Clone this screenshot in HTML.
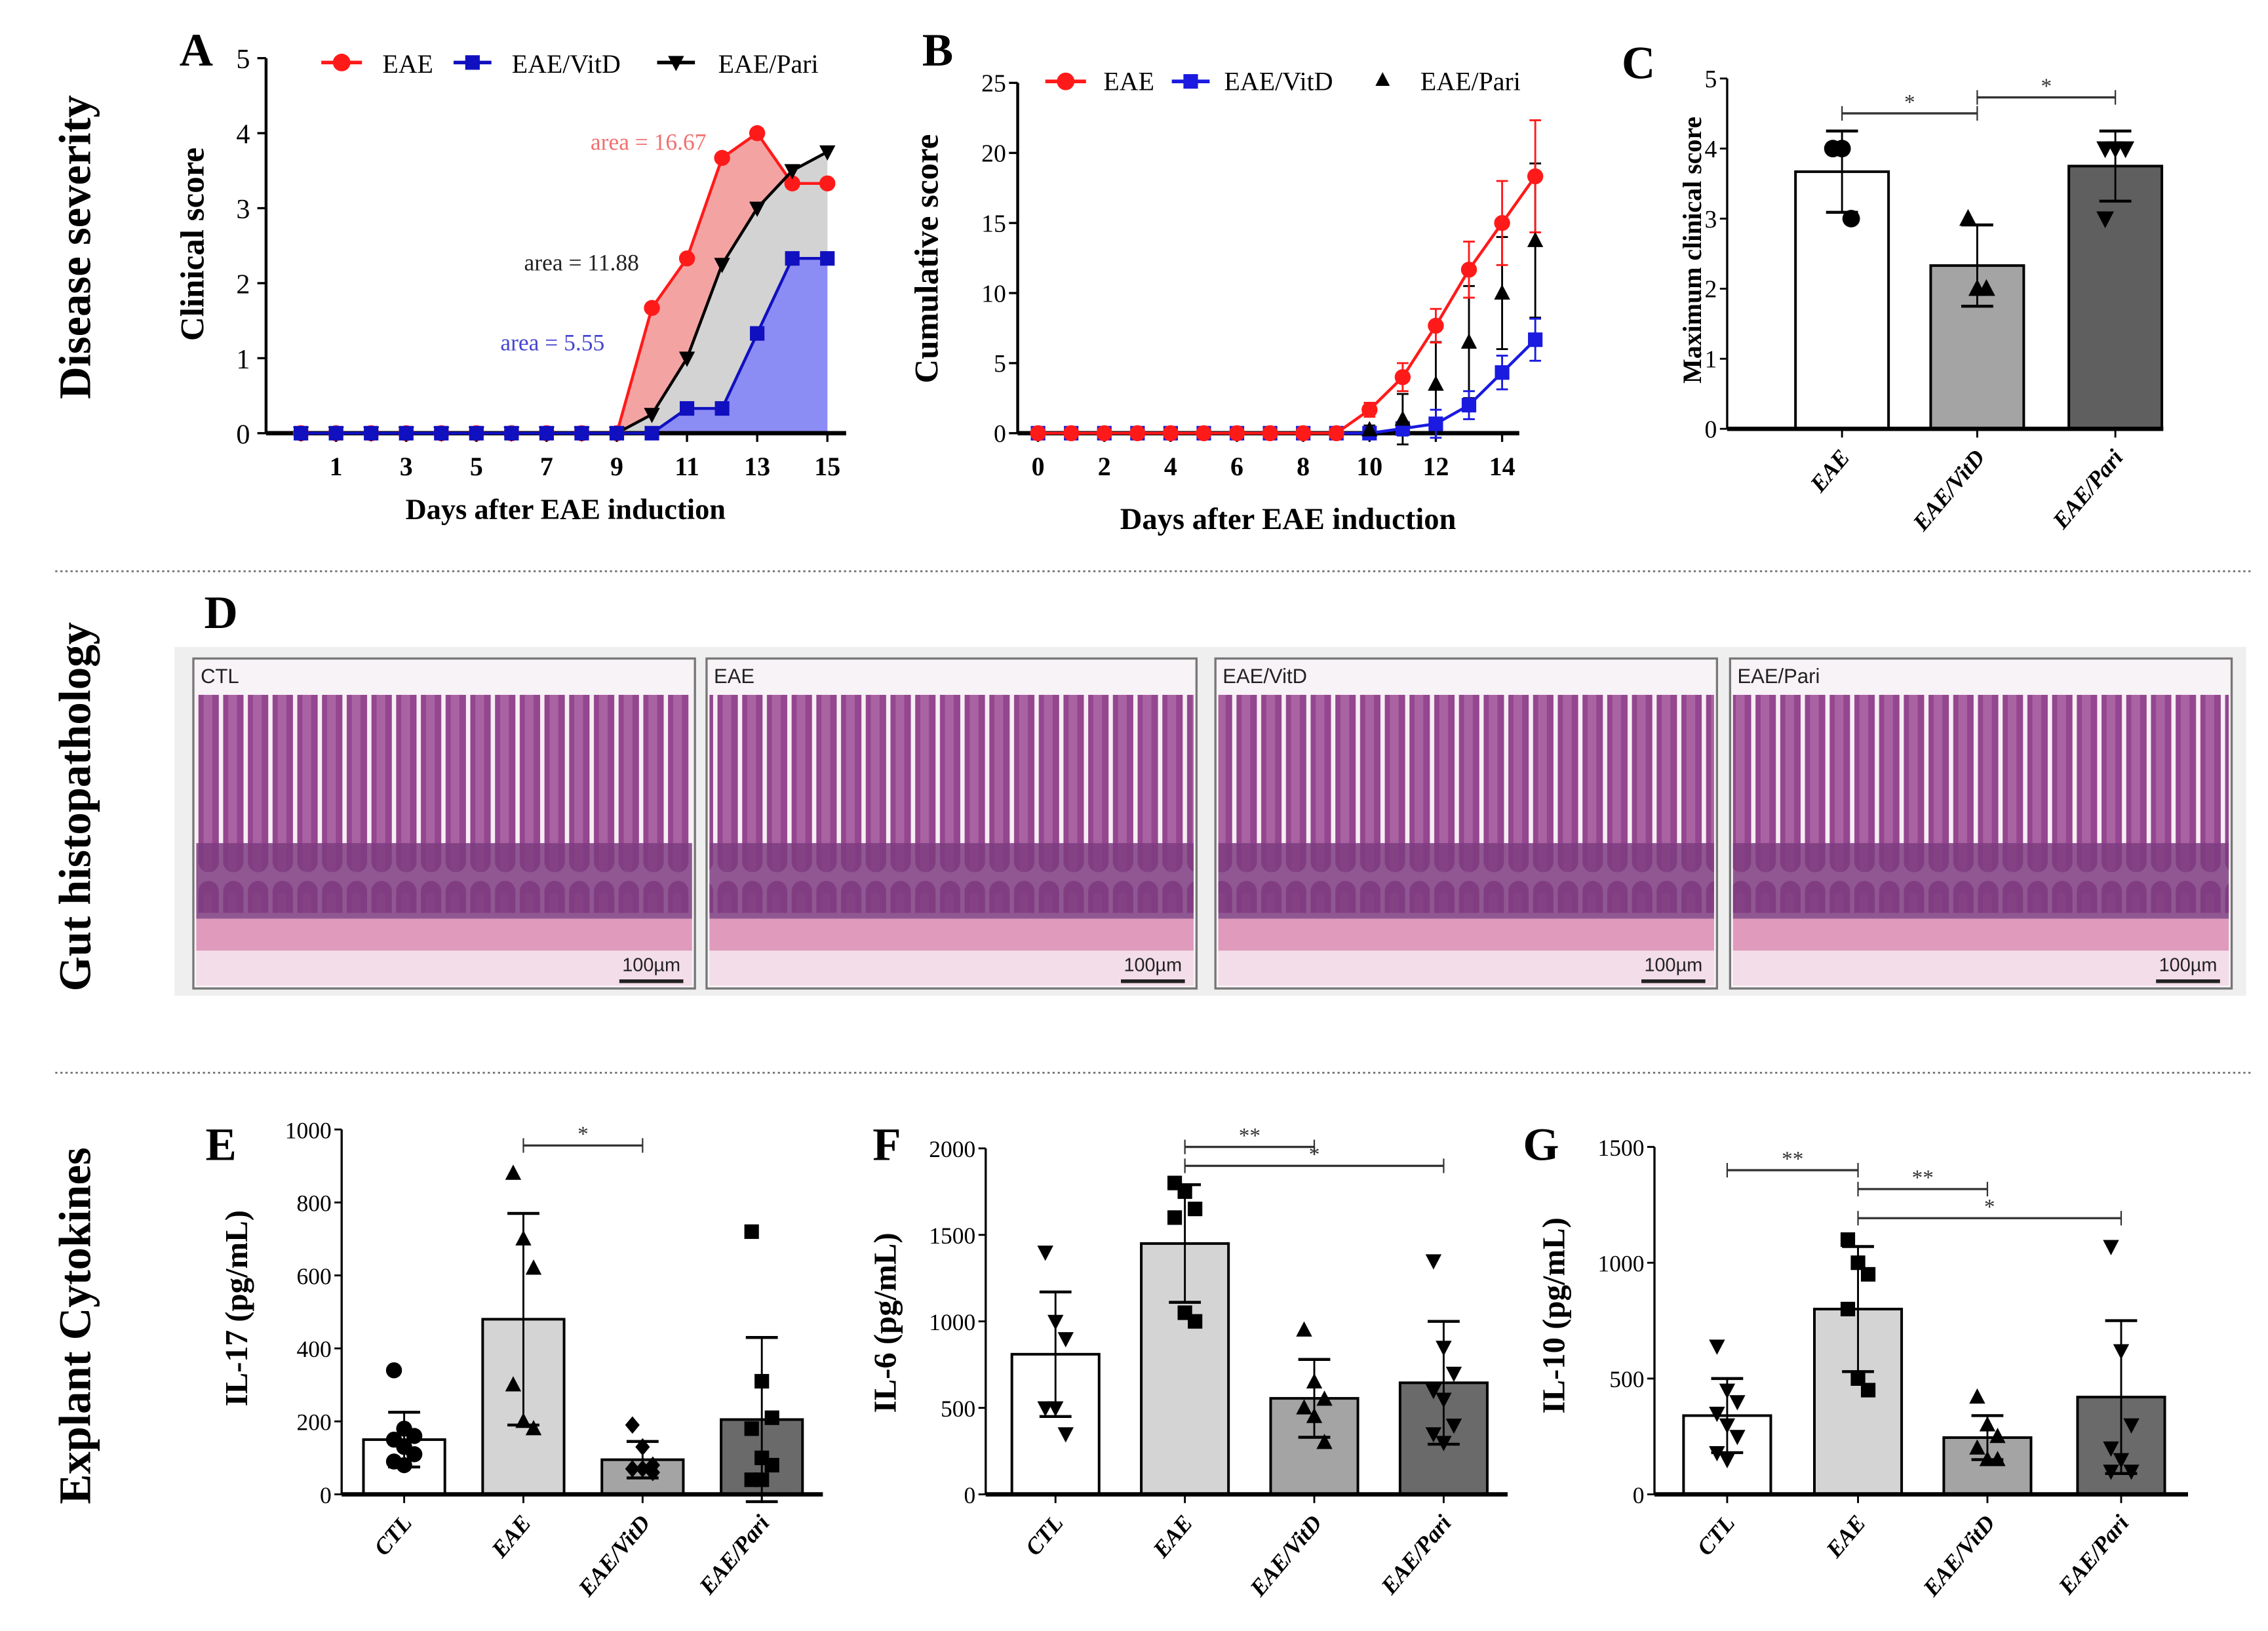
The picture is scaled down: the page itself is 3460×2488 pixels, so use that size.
<!DOCTYPE html>
<html><head><meta charset="utf-8"><style>
html,body{margin:0;padding:0;background:#fff;}
svg{display:block;font-family:"Liberation Serif",serif;}
</style></head><body>
<svg id="fig" xmlns="http://www.w3.org/2000/svg" width="3460" height="2488" viewBox="0 0 1560 1122" preserveAspectRatio="none">
<defs>
<pattern id="villi" x="0" y="0" width="17" height="200" patternUnits="userSpaceOnUse">
<rect x="0" y="0" width="17" height="200" fill="#f7eef4"/>
<rect x="0.5" y="6" width="14" height="194" rx="7" fill="#94468f"/>
<rect x="4" y="14" width="6" height="186" rx="3" fill="#a963a3"/>
</pattern>
</defs>
</svg>
<script>
const NS='http://www.w3.org/2000/svg';
const svg=document.getElementById('fig');

// ---------- DATA ----------
const daysA=[0,1,2,3,4,5,6,7,8,9,10,11,12,13,14,15];
const aEAE=[0,0,0,0,0,0,0,0,0,0,1.67,2.33,3.67,4,3.33,3.33];
const aVitD=[0,0,0,0,0,0,0,0,0,0,0,0.33,0.33,1.33,2.33,2.33];
const aPari=[0,0,0,0,0,0,0,0,0,0,0.25,1,2.25,3,3.5,3.75];
const aTicksX=[1,3,5,7,9,11,13,15];
const aTicksY=[0,1,2,3,4,5];

const daysB=[0,1,2,3,4,5,6,7,8,9,10,11,12,13,14,15];
const bEAE=[0,0,0,0,0,0,0,0,0,0,1.67,4,7.67,11.67,15,18.33];
const bEAEerr=[0,0,0,0,0,0,0,0,0,0,0.5,1,1.2,2,3,4];
const bVitD=[0,0,0,0,0,0,0,0,0,0,0,0.33,0.67,2,4.33,6.67];
const bVitDerr=[0,0,0,0,0,0,0,0,0,0,0.3,0.5,1,1,1.2,1.5];
const bPariDays=[10,11,12,13,14,15];
const bPari=[0.25,1,3.5,6.5,10,13.75];
const bPariErr=[0.3,1.8,3,4,4,5.5];
const bTicksX=[0,2,4,6,8,10,12,14];
const bTicksY=[0,5,10,15,20,25];

const cCats=['EAE','EAE/VitD','EAE/Pari'];
const cMeans=[3.67,2.33,3.75];
const cSD=[0.58,0.58,0.5];
const cPts=[[4,4,3],[3,2,2],[4,4,4,3]];
const cTicks=[0,1,2,3,4,5];

const cytoCats=['CTL','EAE','EAE/VitD','EAE/Pari'];
const eMeans=[150,480,95,205];
const eSD=[75,290,50,225];
const ePts=[[340,180,160,150,130,110,90,80],[880,700,620,300,200,180],[190,130,80,70,70,60],[720,310,210,180,100,80,40,40]];
const eTicks=[0,200,400,600,800,1000];
const fMeans=[810,1450,555,645];
const fSD=[360,340,225,355];
const fPts=[[1400,1000,900,500,500,350],[1800,1750,1650,1600,1050,1000],[950,650,550,500,450,300],[1350,850,700,600,550,400,350,300]];
const fTicks=[0,500,1000,1500,2000];
const gMeans=[340,800,245,420];
const gSD=[160,270,95,330];
const gPts=[[640,450,400,350,300,250,180,150],[1100,1000,950,800,500,450],[420,300,250,200,150,150],[1070,620,300,200,150,100,100]];
const gTicks=[0,500,1000,1500];

// ---------- HELPERS ----------
function el(tag,attrs,name,parent){
  const e=document.createElementNS(NS,tag);
  for(const k in attrs) e.setAttribute(k,attrs[k]);
  
  
  (parent||svg).appendChild(e);
  return e;
}
function txt(x,y,s,o,name,parent){
  o=o||{};
  const a={x:x,y:y,'font-size':o.size||16,'text-anchor':o.anchor||'middle',fill:o.fill||'#000','font-weight':o.weight||'normal'};
  if(o.style) a['font-style']=o.style;
  if(o.family) a['font-family']=o.family;
  if(o.rot!==undefined) a.transform='rotate('+o.rot+' '+x+' '+y+')';
  const t=el('text',a,name,parent);
  t.textContent=s;
  return t;
}
function marker(shape,x,y,s,fill,name,parent){
  if(shape==='circle') return el('circle',{cx:x,cy:y,r:s*0.55,fill:fill},name,parent);
  if(shape==='square') return el('rect',{x:x-s/2,y:y-s/2,width:s,height:s,fill:fill},name,parent);
  if(shape==='up') return el('polygon',{points:(x)+','+(y-s*0.6)+' '+(x-s*0.55)+','+(y+s*0.45)+' '+(x+s*0.55)+','+(y+s*0.45),fill:fill},name,parent);
  if(shape==='down') return el('polygon',{points:(x)+','+(y+s*0.6)+' '+(x-s*0.55)+','+(y-s*0.45)+' '+(x+s*0.55)+','+(y-s*0.45),fill:fill},name,parent);
  if(shape==='diamond') return el('polygon',{points:x+','+(y-s*0.6)+' '+(x+s*0.5)+','+y+' '+x+','+(y+s*0.6)+' '+(x-s*0.5)+','+y,fill:fill},name,parent);
}

// ---------- SECTION LABELS / DIVIDERS ----------
txt(62,170,'Disease severity',{size:31,weight:'bold',rot:-90},'section-label-disease-severity');
txt(62,555,'Gut histopathology',{size:31,weight:'bold',rot:-90},'section-label-gut-histopathology');
txt(62,912,'Explant Cytokines',{size:31,weight:'bold',rot:-90},'section-label-explant-cytokines');
el('line',{x1:38,y1:393,x2:1550,y2:393,stroke:'#777','stroke-width':1.3,'stroke-dasharray':'1.5,2'},'divider-top');
el('line',{x1:38,y1:738,x2:1550,y2:738,stroke:'#777','stroke-width':1.3,'stroke-dasharray':'1.5,2'},'divider-bottom');

// ---------- PANEL A ----------
(function(){
  const g=el('g',{},'panel-a');
  const X=d=>207+d*24.14, Y=v=>298-v*51.6;
  txt(135,45,'A',{size:32,weight:'bold'},'panel-letter-a',g);
  function poly(vals,fill,name){
    let p=X(0)+','+Y(0);
    vals.forEach((v,i)=>{p+=' '+X(daysA[i])+','+Y(v);});
    p+=' '+X(15)+','+Y(0);
    el('polygon',{points:p,fill:fill},name,g);
  }
  poly(aEAE,'#f4a3a3','area-eae');
  poly(aPari,'#d3d3d3','area-eae-pari');
  poly(aVitD,'#8c8cf5','area-eae-vitd');
  el('line',{x1:183,y1:40,x2:183,y2:298,stroke:'#000','stroke-width':2},'y-axis-a',g);
  el('line',{x1:183,y1:298,x2:582,y2:298,stroke:'#000','stroke-width':3},'x-axis-a',g);
  aTicksY.forEach(t=>{
    el('line',{x1:177,y1:Y(t),x2:183,y2:Y(t),stroke:'#000','stroke-width':1.5},'y-tick-a',g);
    txt(172,Y(t)+7,String(t),{size:19,anchor:'end'},'y-tick-label-a',g);
  });
  aTicksX.forEach(t=>{
    el('line',{x1:X(t),y1:298,x2:X(t),y2:304,stroke:'#000','stroke-width':1.5},'x-tick-a',g);
    txt(X(t),327,String(t),{size:18,weight:'bold'},'x-tick-label-a',g);
  });
  function line(vals,color,shape,name){
    let p='';
    vals.forEach((v,i)=>{p+=(i?' L':'M')+X(daysA[i])+','+Y(v);});
    el('path',{d:p,stroke:color,'stroke-width':2,fill:'none'},name+'-line',g);
    vals.forEach((v,i)=>marker(shape,X(daysA[i]),Y(v),10,color,name+'-point',g));
  }
  line(aEAE,'#ff1a1a','circle','eae');
  line(aPari,'#000','down','eae-pari');
  line(aVitD,'#1010c0','square','eae-vitd');
  txt(446,103,'area = 16.67',{size:16,fill:'#f07070'},'area-label-eae',g);
  txt(400,186,'area = 11.88',{size:16,fill:'#222'},'area-label-pari',g);
  txt(380,241,'area = 5.55',{size:16,fill:'#4545d0'},'area-label-vitd',g);
  txt(389,357,'Days after EAE induction',{size:20,weight:'bold'},'x-axis-title-a',g);
  txt(140,168,'Clinical score',{size:23,weight:'bold',rot:-90},'y-axis-title-a',g);
  el('line',{x1:221,y1:43,x2:249,y2:43,stroke:'#ff1a1a','stroke-width':2.5},'legend-eae-line',g);
  marker('circle',235,43,11,'#ff1a1a','legend-eae-marker',g);
  txt(263,50,'EAE',{size:18,anchor:'start'},'legend-eae-label',g);
  el('line',{x1:312,y1:43,x2:338,y2:43,stroke:'#1010c0','stroke-width':2.5},'legend-vitd-line',g);
  marker('square',325,43,10,'#1010c0','legend-vitd-marker',g);
  txt(352,50,'EAE/VitD',{size:18,anchor:'start'},'legend-vitd-label',g);
  el('line',{x1:452,y1:43,x2:478,y2:43,stroke:'#000','stroke-width':2.5},'legend-pari-line',g);
  marker('down',465,43,10,'#000','legend-pari-marker',g);
  txt(494,50,'EAE/Pari',{size:18,anchor:'start'},'legend-pari-label',g);
})();

// ---------- PANEL B ----------
(function(){
  const g=el('g',{},'panel-b');
  const X=d=>714+d*22.8, Y=v=>298-v*9.64;
  txt(645,45,'B',{size:32,weight:'bold'},'panel-letter-b',g);
  el('line',{x1:700,y1:57,x2:700,y2:298,stroke:'#000','stroke-width':2},'y-axis-b',g);
  el('line',{x1:700,y1:298,x2:1045,y2:298,stroke:'#000','stroke-width':3},'x-axis-b',g);
  bTicksY.forEach(t=>{
    el('line',{x1:694,y1:Y(t),x2:700,y2:Y(t),stroke:'#000','stroke-width':1.5},'y-tick-b',g);
    txt(692,Y(t)+6,String(t),{size:17,anchor:'end'},'y-tick-label-b',g);
  });
  bTicksX.forEach(t=>{
    el('line',{x1:X(t),y1:298,x2:X(t),y2:304,stroke:'#000','stroke-width':1.5},'x-tick-b',g);
    txt(X(t),327,String(t),{size:18,weight:'bold'},'x-tick-label-b',g);
  });
  function errbar(x,v,e,color,name){
    el('line',{x1:x,y1:Y(v-e),x2:x,y2:Y(v+e),stroke:color,'stroke-width':1.3},name,g);
    el('line',{x1:x-4,y1:Y(v+e),x2:x+4,y2:Y(v+e),stroke:color,'stroke-width':1.3},name+'-cap',g);
    el('line',{x1:x-4,y1:Y(v-e),x2:x+4,y2:Y(v-e),stroke:color,'stroke-width':1.3},name+'-cap',g);
  }
  bPari.forEach((v,i)=>{errbar(X(bPariDays[i]),v,bPariErr[i],'#000','errbar-pari');});
  function line(vals,errs,color,shape,name){
    let p='';
    vals.forEach((v,i)=>{p+=(i?' L':'M')+X(daysB[i])+','+Y(v);});
    el('path',{d:p,stroke:color,'stroke-width':2,fill:'none'},name+'-line',g);
    vals.forEach((v,i)=>{ if(errs[i]>0) errbar(X(daysB[i]),v,errs[i],color,name+'-errbar'); });
    vals.forEach((v,i)=>marker(shape,X(daysB[i]),Y(v),10,color,name+'-point',g));
  }
  line(bVitD,bVitDerr,'#1a1ae0','square','cum-vitd');
  line(bEAE,bEAEerr,'#ff1a1a','circle','cum-eae');
  bPari.forEach((v,i)=>marker('up',X(bPariDays[i]),Y(v),10,'#000','cum-pari-point',g));
  txt(886,364,'Days after EAE induction',{size:21,weight:'bold'},'x-axis-title-b',g);
  txt(645,178,'Cumulative score',{size:23,weight:'bold',rot:-90},'y-axis-title-b',g);
  el('line',{x1:719,y1:56,x2:747,y2:56,stroke:'#ff1a1a','stroke-width':2.5},'legend-b-eae-line',g);
  marker('circle',733,56,11,'#ff1a1a','legend-b-eae-marker',g);
  txt(759,62,'EAE',{size:18,anchor:'start'},'legend-b-eae-label',g);
  el('line',{x1:806,y1:56,x2:832,y2:56,stroke:'#1a1ae0','stroke-width':2.5},'legend-b-vitd-line',g);
  marker('square',819,56,10,'#1a1ae0','legend-b-vitd-marker',g);
  txt(842,62,'EAE/VitD',{size:18,anchor:'start'},'legend-b-vitd-label',g);
  marker('up',951,55,9,'#000','legend-b-pari-marker',g);
  txt(977,62,'EAE/Pari',{size:18,anchor:'start'},'legend-b-pari-label',g);
})();

// ---------- BAR CHART HELPER ----------
function barChart(c){
  const g=el('g',{},c.name);
  const Y=v=>c.y0-v*(c.y0-c.yTop)/c.max;
  txt(c.letterX,c.letterY,c.letter,{size:32,weight:'bold'},'panel-letter-'+c.letter.toLowerCase(),g);
  el('line',{x1:c.ax,y1:c.yTop,x2:c.ax,y2:c.y0,stroke:'#000','stroke-width':1.5},'y-axis',g);
  c.ticks.forEach(t=>{
    el('line',{x1:c.ax-5,y1:Y(t),x2:c.ax,y2:Y(t),stroke:'#000','stroke-width':1.3},'y-tick',g);
    txt(c.ax-7,Y(t)+6,String(t),{size:c.tickSize||16,anchor:'end'},'y-tick-label',g);
  });
  c.cats.forEach((cat,i)=>{
    const x=c.centers[i];
    el('rect',{x:x-c.w/2,y:Y(c.means[i]),width:c.w,height:c.y0-Y(c.means[i]),fill:c.colors[i],stroke:'#000','stroke-width':1.8},'bar-'+cat.toLowerCase().replace('/','-'),g);
    el('line',{x1:x,y1:Y(c.means[i]-c.sd[i]),x2:x,y2:Y(c.means[i]+c.sd[i]),stroke:'#000','stroke-width':1.3},'error-bar',g);
    el('line',{x1:x-11,y1:Y(c.means[i]+c.sd[i]),x2:x+11,y2:Y(c.means[i]+c.sd[i]),stroke:'#000','stroke-width':2},'error-cap',g);
    el('line',{x1:x-11,y1:Y(c.means[i]-c.sd[i]),x2:x+11,y2:Y(c.means[i]-c.sd[i]),stroke:'#000','stroke-width':2},'error-cap',g);
    const pts=c.pts[i];
    pts.forEach((v,j)=>{
      const off=((j%3)-1)*7*(pts.length>3?1:0.9);
      marker(c.shapes[i],x+off,Y(v),c.ms||10,'#000','data-point',g);
    });
    el('line',{x1:x,y1:c.y0,x2:x,y2:c.y0+6,stroke:'#000','stroke-width':1.3},'x-tick',g);
    txt(x+6,c.y0+20,cat,{size:c.labSize||16,weight:'bold',style:'italic',anchor:'end',rot:-50},'x-tick-label',g);
  });
  el('line',{x1:c.ax,y1:c.y0,x2:c.axEnd,y2:c.y0,stroke:'#000','stroke-width':3},'x-axis',g);
  c.sig.forEach(s=>{
    const x1=c.centers[s[0]],x2=c.centers[s[1]];
    el('line',{x1:x1,y1:s[2],x2:x2,y2:s[2],stroke:'#333','stroke-width':1.5},'significance-bracket',g);
    el('line',{x1:x1,y1:s[2]-5,x2:x1,y2:s[2]+5,stroke:'#333','stroke-width':1},'significance-bracket-end',g);
    el('line',{x1:x2,y1:s[2]-5,x2:x2,y2:s[2]+5,stroke:'#333','stroke-width':1},'significance-bracket-end',g);
    txt((x1+x2)/2,s[2]-3,s[3],{size:15,fill:'#333'},'significance-stars',g);
  });
  txt(c.titleX,c.titleY,c.title,{size:c.titleSize||22,weight:'bold',rot:-90},'y-axis-title',g);
}

barChart({name:'panel-c',letter:'C',letterX:1127,letterY:54,ax:1188,y0:295,yTop:54,max:5,ticks:cTicks,cats:cCats,centers:[1267,1360,1455],w:64,means:cMeans,sd:cSD,pts:cPts,shapes:['circle','up','down'],colors:['#fff','#a4a4a4','#5f5f5f'],axEnd:1488,sig:[[0,1,78,'*'],[1,2,67,'*']],title:'Maximum clinical score',titleX:1170,titleY:172,titleSize:18,tickSize:17,ms:11});

barChart({name:'panel-e',letter:'E',letterX:152,letterY:798,ax:235,y0:1028,yTop:777,max:1000,ticks:eTicks,cats:cytoCats,centers:[278,360,442,524],w:56,means:eMeans,sd:eSD,pts:ePts,shapes:['circle','up','diamond','square'],colors:['#fff','#d4d4d4','#a4a4a4','#6a6a6a'],axEnd:566,sig:[[1,2,788,'*']],title:'IL-17 (pg/mL)',titleX:170,titleY:900});

barChart({name:'panel-f',letter:'F',letterX:610,letterY:798,ax:678,y0:1028,yTop:790,max:2000,ticks:fTicks,cats:cytoCats,centers:[726,815,904,993],w:60,means:fMeans,sd:fSD,pts:fPts,shapes:['down','square','up','down'],colors:['#fff','#d4d4d4','#a4a4a4','#6a6a6a'],axEnd:1037,sig:[[1,2,789,'**'],[1,3,802,'*']],title:'IL-6 (pg/mL)',titleX:616,titleY:910});

barChart({name:'panel-g',letter:'G',letterX:1060,letterY:798,ax:1138,y0:1028,yTop:789,max:1500,ticks:gTicks,cats:cytoCats,centers:[1188,1278,1367,1459],w:60,means:gMeans,sd:gSD,pts:gPts,shapes:['down','square','up','down'],colors:['#fff','#d4d4d4','#a4a4a4','#6a6a6a'],axEnd:1505,sig:[[0,1,805,'**'],[1,2,818,'**'],[1,3,838,'*']],title:'IL-10 (pg/mL)',titleX:1076,titleY:905});

// ---------- PANEL D (histology) ----------
(function(){
  const g=el('g',{},'panel-d');
  txt(152,432,'D',{size:32,weight:'bold'},'panel-letter-d',g);
  el('rect',{x:120,y:445,width:1425,height:240,fill:'#efefef'},'histology-background',g);
  const panels=[[133,345,'CTL'],[486,337,'EAE'],[836,345,'EAE/VitD'],[1190,345,'EAE/Pari']];
  panels.forEach(p=>{
    const x=p[0],w=p[1],nm=p[2].toLowerCase().replace('/','-');
    el('rect',{x:x,y:453,width:w,height:227,fill:'#f8f3f6',stroke:'#777','stroke-width':1.5},'histology-frame-'+nm,g);
    el('rect',{x:x+2,y:478,width:w-4,height:150,fill:'url(#villi)'},'histology-villi-'+nm,g);
    el('rect',{x:x+2,y:580,width:w-4,height:52,fill:'#7e3c80',opacity:0.85},'histology-crypts-'+nm,g);
    el('rect',{x:x+2,y:632,width:w-4,height:22,fill:'#e09abb'},'histology-muscle-'+nm,g);
    el('rect',{x:x+2,y:654,width:w-4,height:24,fill:'#f3dde8'},'histology-serosa-'+nm,g);
    txt(x+5,470,p[2],{size:14,anchor:'start',family:'"Liberation Sans",sans-serif',fill:'#222'},'histology-label-'+nm,g);
    txt(x+w-30,668,'100µm',{size:13,family:'"Liberation Sans",sans-serif',fill:'#222'},'scale-bar-label',g);
    el('line',{x1:x+w-52,y1:675,x2:x+w-8,y2:675,stroke:'#222','stroke-width':2.5},'scale-bar',g);
  });
})();
</script>
</body></html>
